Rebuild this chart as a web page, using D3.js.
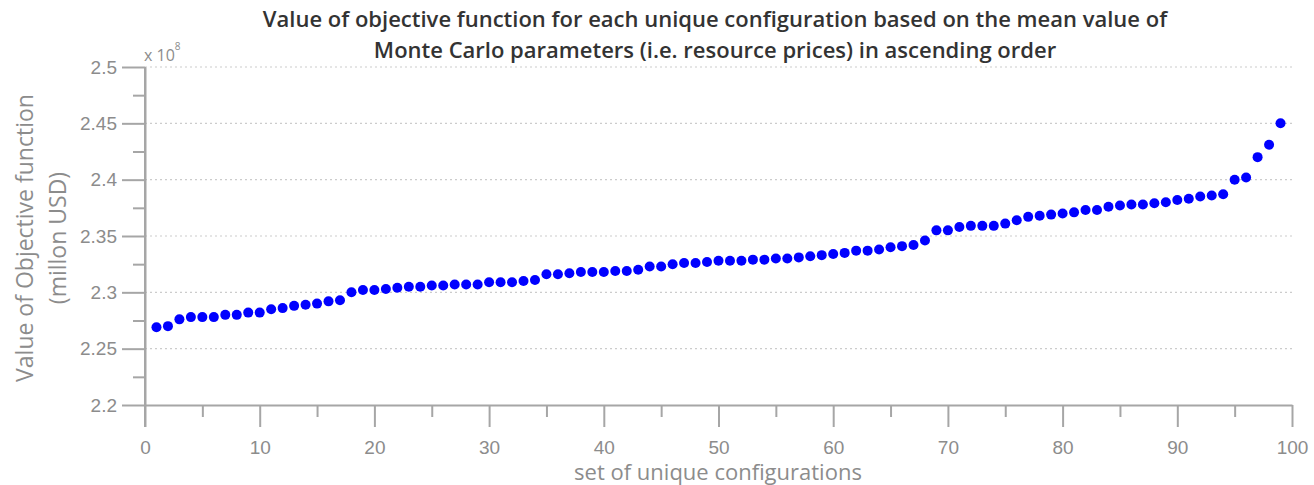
<!DOCTYPE html>
<html>
<head>
<meta charset="utf-8">
<script src="https://cdn.jsdelivr.net/npm/d3@7"></script>
<style>
  html, body { margin: 0; padding: 0; background: #fff; }
  svg { display: block; font-family: "Open Sans", "Liberation Sans", sans-serif; }
</style>
</head>
<body>
<svg id="chart" width="1314" height="485"></svg>
<script>
// Objective function value (x 10^8 million USD) for each unique configuration, ascending
const configIndex = d3.range(1, 100);
const objectiveValues = [
  2.269, 2.270, 2.276, 2.278, 2.278, 2.278, 2.280, 2.280, 2.282, 2.282,
  2.285, 2.286, 2.288, 2.289, 2.290, 2.292, 2.293, 2.300, 2.302, 2.302,
  2.303, 2.304, 2.305, 2.305, 2.306, 2.306, 2.307, 2.307, 2.307, 2.309,
  2.309, 2.309, 2.310, 2.311, 2.316, 2.316, 2.317, 2.318, 2.318, 2.318,
  2.319, 2.319, 2.320, 2.323, 2.323, 2.325, 2.326, 2.326, 2.327, 2.328,
  2.328, 2.328, 2.329, 2.329, 2.330, 2.330, 2.331, 2.332, 2.333, 2.334,
  2.335, 2.337, 2.337, 2.338, 2.340, 2.341, 2.342, 2.346, 2.355, 2.355,
  2.358, 2.359, 2.359, 2.359, 2.361, 2.364, 2.367, 2.368, 2.369, 2.370,
  2.371, 2.373, 2.373, 2.376, 2.377, 2.378, 2.378, 2.379, 2.380, 2.382,
  2.383, 2.385, 2.386, 2.387, 2.400, 2.402, 2.420, 2.431, 2.450
];
const xTicks = d3.range(0, 101, 10);
const xMinorTicks = d3.range(5, 100, 10);
const yTicks = [2.2, 2.25, 2.3, 2.35, 2.4, 2.45, 2.5];
const yMinorTicks = [2.225, 2.275, 2.325, 2.375, 2.425, 2.475];

const titleLines = [
  "Value of objective function for each unique configuration based on the mean value of",
  "Monte Carlo parameters (i.e. resource prices) in ascending order"
];
const yLabelLines = ["Value of Objective function", "(millon USD)"];
const xLabel = "set of unique configurations";

const W = 1314, H = 485;
const margin = { top: 67, right: 22, bottom: 80, left: 145 };
const axisColor = "#a6a6a6";
const textColor = "#8c8c8c";

const svg = d3.select("#chart");

const x = d3.scaleLinear().domain([0, 100]).range([margin.left, W - margin.right]);
const y = d3.scaleLinear().domain([2.2, 2.5]).range([H - margin.bottom, margin.top]);

// dotted horizontal gridlines
svg.append("g")
  .selectAll("line")
  .data(yTicks.filter(d => d > 2.2))
  .join("line")
  .attr("x1", x(0)).attr("x2", x(100))
  .attr("y1", d => y(d)).attr("y2", d => y(d))
  .attr("stroke", "#cccccc")
  .attr("stroke-width", 1.2)
  .attr("stroke-dasharray", "2,3");

// x axis: major ticks with labels, minor ticks without
const xAxis = svg.append("g")
  .attr("transform", `translate(0,${y(2.2)})`)
  .call(d3.axisBottom(x).tickValues(xTicks).tickSize(22).tickPadding(10).tickSizeOuter(0));
svg.append("g")
  .attr("transform", `translate(0,${y(2.2)})`)
  .call(d3.axisBottom(x).tickValues(xMinorTicks).tickSize(12).tickFormat("").tickSizeOuter(0))
  .select(".domain").remove();

// y axis
const yAxis = svg.append("g")
  .attr("transform", `translate(${x(0)},0)`)
  .call(d3.axisLeft(y).tickValues(yTicks).tickSize(23).tickPadding(5).tickSizeOuter(0)
    .tickFormat(d => d3.format("")(+d.toFixed(2))));
svg.append("g")
  .attr("transform", `translate(${x(0)},0)`)
  .call(d3.axisLeft(y).tickValues(yMinorTicks).tickSize(12).tickFormat("").tickSizeOuter(0))
  .select(".domain").remove();

// vertical axis line continues down to the x tick at 0
svg.append("line")
  .attr("x1", x(0)).attr("x2", x(0))
  .attr("y1", y(2.5)).attr("y2", y(2.2) + 22)
  .attr("stroke", axisColor).attr("stroke-width", 2);

svg.selectAll(".tick line, .domain")
  .attr("stroke", axisColor)
  .attr("stroke-width", 2);
svg.selectAll(".tick text")
  .attr("fill", textColor)
  .attr("font-size", 19);
xAxis.selectAll(".tick text").attr("dy", "0.9em");

// exponent marker
const expo = svg.append("text")
  .attr("x", x(0) - 1).attr("y", 61)
  .attr("fill", textColor).attr("font-size", 16);
expo.append("tspan").text("x 10");
expo.append("tspan").attr("dy", -11).attr("font-size", 10).text("8");

// data points
svg.append("g")
  .selectAll("circle")
  .data(configIndex)
  .join("circle")
  .attr("cx", (d) => x(d))
  .attr("cy", (d, i) => y(objectiveValues[i]))
  .attr("r", 5)
  .attr("fill", "#0000ff");

// title
svg.append("text")
  .attr("text-anchor", "middle")
  .attr("fill", "#333333")
  .attr("font-size", 22)
  .attr("font-weight", 600)
  .selectAll("tspan")
  .data(titleLines)
  .join("tspan")
  .attr("x", 715)
  .attr("y", (d, i) => 27 + i * 31)
  .text(d => d);

// y label
svg.append("text")
  .attr("text-anchor", "middle")
  .attr("fill", textColor)
  .attr("font-size", 23)
  .attr("transform", "translate(0,238) rotate(-90)")
  .selectAll("tspan")
  .data(yLabelLines)
  .join("tspan")
  .attr("x", 0)
  .attr("y", (d, i) => 33 + i * 33)
  .text(d => d);

// x label
svg.append("text")
  .attr("x", 718).attr("y", 480)
  .attr("text-anchor", "middle")
  .attr("fill", textColor)
  .attr("font-size", 22)
  .text(xLabel);
</script>
</body>
</html>
